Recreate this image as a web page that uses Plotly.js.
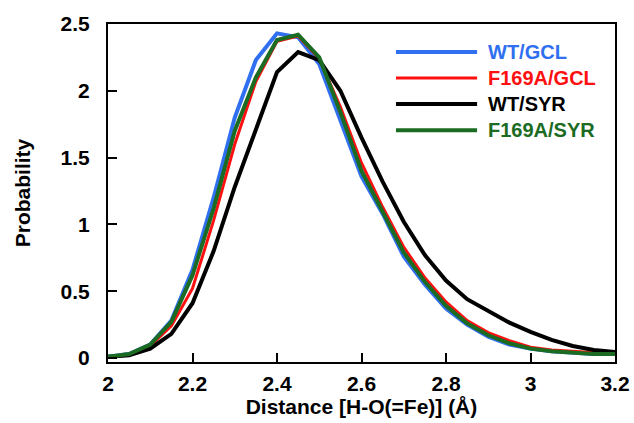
<!DOCTYPE html>
<html>
<head>
<meta charset="utf-8">
<script src="https://cdn.plot.ly/plotly-3.0.1.min.js"></script>
<style>html,body{margin:0;padding:0;background:#fff;}#chart{width:634px;height:423px;}</style>
</head>
<body>
<div id="chart"></div>
<script>
const distance = [2.00,2.05,2.10,2.15,2.20,2.25,2.30,2.35,2.40,2.45,2.50,2.55,2.60,2.65,2.70,2.75,2.80,2.85,2.90,2.95,3.00,3.05,3.10,3.15,3.20];
const wtGcl    = [0.01,0.03,0.10,0.28,0.66,1.20,1.80,2.23,2.43,2.40,2.20,1.78,1.36,1.08,0.76,0.55,0.37,0.25,0.16,0.10,0.07,0.05,0.04,0.03,0.03];
const f169aGcl = [0.01,0.02,0.09,0.24,0.52,1.03,1.60,2.07,2.37,2.41,2.24,1.88,1.46,1.13,0.83,0.60,0.42,0.28,0.19,0.13,0.08,0.06,0.05,0.04,0.03];
const wtSyr    = [0.01,0.02,0.07,0.18,0.41,0.80,1.28,1.72,2.14,2.29,2.23,2.00,1.65,1.32,1.02,0.77,0.58,0.44,0.35,0.265,0.195,0.135,0.09,0.06,0.045];
const f169aSyr = [0.01,0.03,0.10,0.27,0.62,1.12,1.70,2.10,2.38,2.42,2.25,1.84,1.40,1.09,0.79,0.57,0.39,0.26,0.17,0.11,0.07,0.05,0.04,0.03,0.03];
const seriesNames = ["WT/GCL","F169A/GCL","WT/SYR","F169A/SYR"];
const xTicks = [2,2.2,2.4,2.6,2.8,3,3.2];
const yTicks = [0,0.5,1,1.5,2,2.5];

const colors = ["#2f6ff0","#ff1010","#000000","#1b6b22"];
const widths = [4,3,4,4];
const seriesData = [wtGcl,f169aGcl,wtSyr,f169aSyr];
const drawOrder = [0,1,2,3];

const FONT = "Liberation Sans, Arial, Helvetica, sans-serif";

const traces = drawOrder.map(i => ({
  x: distance, y: seriesData[i], type: "scatter", mode: "lines",
  name: seriesNames[i], showlegend: false,
  line: {color: colors[i], width: widths[i]}
}));

// manual legend (paper coordinates)
const legY = [0.917,0.840,0.763,0.686];
const shapes = [], annotations = [];
seriesNames.forEach((n,i) => {
  shapes.push({type:"line", xref:"paper", yref:"paper", x0:0.568, x1:0.728, y0:legY[i], y1:legY[i],
    line:{color:colors[i], width:widths[i]}});
  annotations.push({xref:"paper", yref:"paper", x:0.746, y:legY[i], xanchor:"left", yanchor:"middle",
    text:n, showarrow:false, font:{family:FONT, size:20, color:colors[i], weight:"bold"}});
});

const layout = {
  width:634, height:423,
  margin:{l:108, r:19, t:24, b:61},
  paper_bgcolor:"#fff", plot_bgcolor:"#fff",
  font:{family:FONT, color:"#000", weight:"bold"},
  xaxis:{
    range:[2,3.2], tickvals:xTicks, ticktext:xTicks.map(String),
    ticks:"inside", ticklen:9, tickwidth:2, tickcolor:"#000",
    showline:true, linewidth:2, linecolor:"#000", mirror:true,
    showgrid:false, zeroline:false, ticklabelstandoff:2,
    tickfont:{family:FONT, size:21, weight:"bold"},
    title:{text:"Distance [H-O(=Fe)] (Å)", font:{family:FONT, size:21, weight:"bold"}, standoff:3}
  },
  yaxis:{
    range:[-0.03,2.5], tickvals:yTicks, ticktext:yTicks.map(String),
    ticks:"inside", ticklen:9, tickwidth:2, tickcolor:"#000",
    showline:true, linewidth:2, linecolor:"#000", mirror:true,
    showgrid:false, zeroline:false, ticklabelstandoff:12,
    tickfont:{family:FONT, size:21, weight:"bold"},
    title:{text:"Probability", font:{family:FONT, size:21, weight:"bold"}, standoff:24}
  },
  shapes:shapes, annotations:annotations
};

Plotly.newPlot("chart", traces, layout, {displayModeBar:false, staticPlot:true});
</script>
</body>
</html>
